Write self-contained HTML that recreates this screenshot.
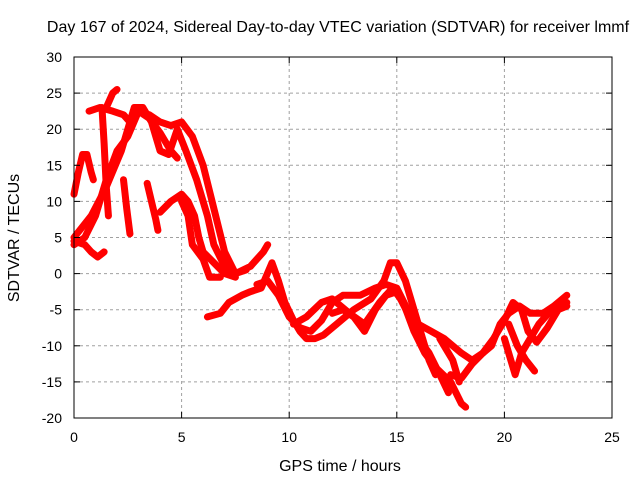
<!DOCTYPE html>
<html><head><meta charset="utf-8"><style>
body{margin:0;background:#fff}
svg{display:block;font-family:"Liberation Sans",sans-serif}
</style></head><body>
<svg id="chart" width="640" height="480">
<text x="338" y="32" text-anchor="middle" font-size="16">Day 167 of 2024, Sidereal Day-to-day VTEC variation (SDTVAR) for receiver lmmf</text>
<text x="340" y="471" text-anchor="middle" font-size="16">GPS time / hours</text>
<text transform="translate(19,238) rotate(-90)" text-anchor="middle" font-size="16">SDTVAR / TECUs</text>
<g id="grid"></g><g id="series"></g><g id="axes"></g>
</svg>
<script>
const xTicks=[0,5,10,15,20,25];
const yTicks=[-20,-15,-10,-5,0,5,10,15,20,25,30];
const track1=[[0,11],[0.2,14],[0.4,16.5],[0.6,16.5],[0.8,14],[0.9,13]];
const track2=[[0,4.5],[0.5,4],[0.8,3],[1.1,2.3],[1.4,3]];
const track3=[[0,4],[0.5,5],[1,8],[1.5,13],[2,17],[2.5,19],[3,22.5],[3.5,22],[4,21],[4.5,20.5],[5,21],[5.5,19],[6,15],[6.5,9],[7,3],[7.5,0],[8,0.5]];
const track4=[[0,5],[0.8,8],[1.5,12],[2.2,17],[2.8,23],[3.2,23],[3.6,21],[4,17],[4.4,16.5],[4.8,20],[5.2,17],[5.7,13],[6.2,8],[6.5,4],[7,1],[7.5,0],[8.2,1],[8.8,3],[9,4]];
const track5=[[1.3,23],[1.4,18],[1.5,12],[1.6,8]];
const track6=[[1.5,23],[1.8,25],[2,25.5]];
const track7=[[0.7,22.5],[1.2,23],[1.8,22.5],[2.3,22],[2.6,21],[3,22.5],[3.5,21.5],[4,19.5],[4.5,17],[4.8,16]];
const track8=[[2.3,13],[2.45,9],[2.6,5.5]];
const track9=[[3.4,12.5],[3.6,10],[3.8,7.5],[3.9,6]];
const track10=[[4,8.5],[4.5,10],[5,11],[5.3,10],[5.6,8],[5.8,5],[6,3],[6.5,1.5],[7,0],[7.5,-0.5]];
const track11=[[5,10],[5.3,8],[5.5,4],[6,2],[6.3,-0.5],[6.8,-0.5]];
const track12=[[6.2,-6],[6.8,-5.5],[7.2,-4],[7.8,-3],[8.2,-2.5],[8.7,-2],[9.2,1.5],[9.5,-1],[9.8,-4],[10.2,-6.5],[10.5,-8],[10.8,-9],[11.2,-9],[11.6,-8.5],[12.2,-7],[13,-5],[13.8,-3.5],[14.4,-1],[14.7,1.5],[15,1.5],[15.4,-1],[15.8,-5],[16.2,-9],[16.5,-12],[16.8,-14]];
const track13=[[8.5,-1.5],[9,-1],[9.5,-3],[10,-6],[10.5,-7.5],[11,-8],[11.5,-6.5],[12,-4],[12.5,-3],[13.3,-3],[14,-2],[14.5,-1.5],[15,-2],[15.5,-5],[16,-9],[16.5,-11],[17,-14],[17.4,-16.5]];
const track14=[[10.2,-7],[10.8,-6],[11.5,-4],[12,-3.5],[12.8,-5.5],[13.5,-7],[14.2,-4],[14.8,-2],[15.3,-4],[15.8,-8],[16.3,-11],[16.8,-13],[17.5,-15],[18,-18],[18.2,-18.5]];
const track15=[[12,-5.5],[12.5,-5],[13,-6],[13.5,-8],[14,-5],[14.5,-3],[15,-2.5],[15.6,-6],[16,-7],[16.6,-8],[17.2,-9],[17.6,-10],[18,-11],[18.5,-12],[19,-11],[19.4,-10],[19.8,-7],[20.2,-5.5],[20.7,-4.5],[21.2,-5.5],[21.8,-5.5],[22.3,-4.5],[22.9,-3]];
const track16=[[17.5,-14],[18,-14.5],[18.5,-12.5],[19,-11],[19.5,-9],[20,-6.5],[20.4,-4],[20.8,-5],[21.1,-8],[21.5,-9.5],[22,-7.5],[22.5,-5],[22.9,-4.5]];
const track17=[[20,-9],[20.3,-12],[20.5,-14],[20.8,-11],[21.2,-9],[21.6,-7],[22.2,-5],[22.9,-4]];
const track18=[[20.2,-7],[20.6,-10],[21,-12],[21.4,-13.5]];
const track19=[[17,-9],[17.3,-10.5],[17.6,-12],[17.9,-15]];
const tracks=[track1,track2,track3,track4,track5,track6,track7,track8,track9,track10,track11,track12,track13,track14,track15,track16,track17,track18,track19];
const X0=74,X1=612,Y0=418,Y1=57;
const sx=h=>X0+(h-0)/(25-0)*(X1-X0);
const sy=v=>Y0-(v+20)/(50)*(Y0-Y1);
const NS="http://www.w3.org/2000/svg";
const grid=document.getElementById('grid'),axes=document.getElementById('axes'),ser=document.getElementById('series');
function mk(tag,attrs,parent){const e=document.createElementNS(NS,tag);for(const k in attrs)e.setAttribute(k,attrs[k]);parent.appendChild(e);return e;}
xTicks.forEach(t=>{
  const x=sx(t);
  if(t>0&&t<25){const g=mk('line',{x1:x,x2:x,y1:Y1,y2:Y0,stroke:'#a0a0a0','stroke-dasharray':'3,3'},grid);
  
  }
  mk('line',{x1:x,x2:x,y1:Y0,y2:Y0-6,stroke:'#000'},axes);
  mk('line',{x1:x,x2:x,y1:Y1,y2:Y1+6,stroke:'#000'},axes);
  const l=mk('text',{x:x,y:Y0+24,'text-anchor':'middle','font-size':14},axes);l.textContent=t;
  
  
});
yTicks.forEach(t=>{
  const y=sy(t);
  if(t>-20&&t<30){const g=mk('line',{x1:X0,x2:X1,y1:y,y2:y,stroke:'#a0a0a0','stroke-dasharray':'3,3'},grid);
  
  }
  mk('line',{x1:X0,x2:X0+6,y1:y,y2:y,stroke:'#000'},axes);
  mk('line',{x1:X1,x2:X1-6,y1:y,y2:y,stroke:'#000'},axes);
  const l=mk('text',{x:X0-12,y:y+5,'text-anchor':'end','font-size':14},axes);l.textContent=t;
  
  
});
const frame=mk('rect',{x:X0,y:Y1,width:X1-X0,height:Y0-Y1,fill:'none',stroke:'#000'},axes);


tracks.forEach((tr,i)=>{
  const p=mk('polyline',{points:tr.map(d=>sx(d[0])+','+sy(d[1])).join(' '),fill:'none',stroke:'#ff0000','stroke-width':7,'stroke-linejoin':'round','stroke-linecap':'round'},ser);
  
  
});
</script>
</body></html>
